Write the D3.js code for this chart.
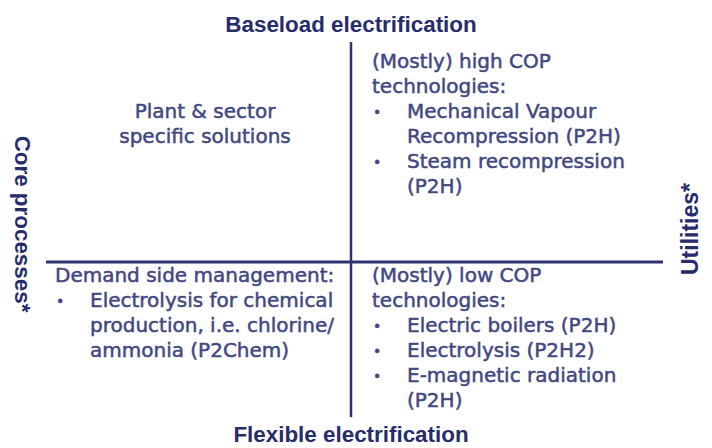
<!DOCTYPE html>
<html><head><meta charset="utf-8">
<script src="https://cdn.jsdelivr.net/npm/d3@7"></script>
<style>body{margin:0;background:#fff}svg{display:block}</style>
</head><body><svg id="c" width="712" height="448"></svg>
<script>
const axisTop = "Baseload electrification";
const axisBottom = "Flexible electrification";
const axisLeft = "Core processes*";
const axisRight = "Utilities*";
// quadrant texts: [text, kind] (0 plain, 1 bullet, 2 bullet continuation); rows of 25px
const topLeft = [["Plant & sector", 0], ["specific solutions", 0]];
const topLeftStart = 2;
const topRight = [["(Mostly) high COP", 0], ["technologies:", 0], ["Mechanical Vapour", 1], ["Recompression (P2H)", 2], ["Steam recompression", 1], ["(P2H)", 2]];
const bottomLeft = [["Demand side management:", 0], ["Electrolysis for chemical", 1], ["production, i.e. chlorine/", 2], ["ammonia (P2Chem)", 2]];
const bottomRight = [["(Mostly) low COP", 0], ["technologies:", 0], ["Electric boilers (P2H)", 1], ["Electrolysis (P2H2)", 1], ["E-magnetic radiation", 1], ["(P2H)", 2]];

const svg = d3.select("#c");
const navy = "#272c6b", body = "#42487f", line = "#2d336f";
const x = d3.scaleLinear().domain([-1, 1]).range([46, 663]);
const y = d3.scaleLinear().domain([-1, 1]).range([42, 417]);
const row = d3.scaleLinear().domain([0, 1]).range([0, 25]);

svg.append("line").attr("x1", x(-1)).attr("x2", x(1)).attr("y1", 262).attr("y2", 262)
  .attr("stroke", line).attr("stroke-width", 3);
svg.append("line").attr("x1", 351).attr("x2", 351).attr("y1", y(-1)).attr("y2", y(1))
  .attr("stroke", line).attr("stroke-width", 2.5);

const tf = "'Liberation Sans', Arial, sans-serif";
svg.append("text").text(axisTop).attr("x", 351).attr("y", 32).attr("text-anchor", "middle")
  .attr("font-family", tf).attr("font-weight", "bold").attr("font-size", 22.4).attr("fill", navy);
svg.append("text").text(axisBottom).attr("x", 351).attr("y", 442).attr("text-anchor", "middle")
  .attr("font-family", tf).attr("font-weight", "bold").attr("font-size", 22.4).attr("fill", navy);
svg.append("text").text(axisLeft).attr("transform", "translate(22,224) rotate(90)").attr("text-anchor", "middle")
  .attr("dominant-baseline", "central")
  .attr("font-family", tf).attr("font-weight", "bold").attr("font-size", 22.4).attr("fill", navy);
svg.append("text").text(axisRight).attr("transform", "translate(690,229) rotate(-90)").attr("text-anchor", "middle")
  .attr("dominant-baseline", "central")
  .attr("font-family", tf).attr("font-weight", "bold").attr("font-size", 23).attr("fill", navy);

const bf = "'DejaVu Sans', sans-serif";
function block(lines, x0, base, start, anchor) {
  const g = svg.append("g").attr("font-family", bf).attr("font-size", 20).attr("fill", body)
    .attr("stroke", body).attr("stroke-width", 0.5);
  lines.forEach((d, i) => {
    const yy = base + row(start + i);
    if (d[1] === 1) {
      g.append("text").text("•").attr("x", x0 + 1).attr("y", yy - 1).attr("font-size", 14);
    }
    g.append("text").text(d[0]).attr("x", d[1] ? x0 + 35 : x0).attr("y", yy)
      .attr("text-anchor", anchor || "start");
  });
}
block(topLeft, 205, 68, topLeftStart, "middle");
block(topRight, 372, 68, 0);
block(bottomLeft, 55, 282, 0);
block(bottomRight, 372, 282, 0);
</script></body></html>
